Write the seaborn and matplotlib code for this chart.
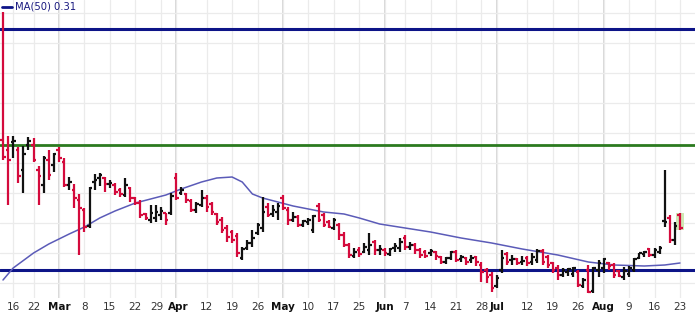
import numpy as np
import pandas as pd
import matplotlib
matplotlib.use("Agg")
import matplotlib.pyplot as plt
import matplotlib.transforms as mtransforms
from matplotlib.patches import Rectangle
import seaborn as sns

# ---------------- data (prices in thousandths) ----------------
opens = [433, 423, 431, 423, 403, 428, 428, 403, 388, 413, 408, 423, 411, 388, 383, 373, 363, 347, 391, 395,
         395, 389, 388, 383, 378, 385, 375, 370, 359, 353, 355, 358, 360, 360, 395, 380, 379, 372, 363, 368,
         375, 369, 359, 353, 345, 341, 337, 315, 325, 330, 340, 345, 366, 359, 361, 375, 363, 353, 356, 348,
         351, 343, 367, 358, 351, 345, 348, 338, 328, 317, 323, 321, 323, 331, 323, 323, 319, 325, 325, 335,
         326, 328, 323, 321, 320, 321, 316, 311, 315, 321, 314, 315, 313, 316, 308, 303, 298, 287, 303, 319,
         313, 314, 311, 315, 311, 313, 322, 316, 310, 305, 298, 301, 299, 301, 287, 303, 282, 303, 305, 310,
         308, 302, 296, 299, 303, 315, 319, 324, 318, 321, 352, 355, 333, 358]
highs = [561, 437, 437, 426, 427, 436, 435, 407, 417, 423, 420, 426, 415, 396, 389, 379, 365, 386, 399, 400,
         396, 393, 390, 385, 395, 386, 376, 373, 360, 368, 368, 366, 360, 380, 400, 386, 380, 374, 371, 383,
         378, 371, 360, 356, 348, 343, 340, 326, 333, 343, 350, 376, 370, 368, 370, 378, 366, 361, 358, 353,
         355, 358, 370, 360, 353, 355, 350, 341, 330, 325, 326, 330, 340, 333, 328, 325, 325, 330, 335, 338,
         331, 330, 325, 323, 324, 322, 317, 316, 322, 323, 318, 316, 318, 317, 311, 305, 301, 298, 323, 321,
         318, 315, 317, 317, 320, 324, 324, 318, 311, 308, 305, 305, 306, 303, 295, 308, 306, 313, 315, 311,
         310, 303, 306, 307, 315, 320, 322, 325, 325, 327, 403, 358, 351, 360]
lows = [413, 368, 415, 390, 380, 423, 411, 368, 380, 393, 401, 411, 386, 383, 365, 318, 341, 345, 383, 387,
        381, 385, 378, 376, 376, 371, 368, 355, 353, 350, 351, 353, 348, 358, 373, 378, 370, 361, 360, 366,
        361, 358, 348, 340, 331, 330, 316, 313, 323, 326, 338, 341, 356, 356, 353, 363, 348, 351, 346, 346,
        348, 340, 351, 346, 345, 343, 333, 326, 315, 315, 316, 320, 318, 318, 318, 317, 317, 321, 321, 323,
        323, 319, 315, 315, 317, 313, 309, 309, 313, 311, 311, 308, 310, 307, 291, 290, 281, 285, 300, 308,
        308, 308, 308, 307, 308, 310, 308, 305, 300, 293, 296, 297, 296, 286, 285, 280, 280, 296, 300, 303,
        295, 296, 293, 296, 301, 314, 316, 316, 315, 319, 346, 330, 328, 343]
closes = [416, 413, 432, 397, 419, 432, 413, 397, 415, 398, 419, 415, 388, 391, 375, 365, 346, 385, 393, 398,
          389, 390, 381, 379, 388, 375, 370, 358, 355, 360, 361, 362, 353, 377, 375, 383, 373, 363, 369, 375,
          366, 361, 351, 343, 336, 333, 320, 324, 330, 335, 348, 361, 358, 363, 367, 365, 353, 356, 348, 352,
          353, 357, 353, 348, 346, 353, 338, 328, 318, 321, 319, 326, 328, 323, 324, 320, 324, 327, 331, 326,
          328, 323, 318, 317, 322, 317, 311, 315, 321, 313, 316, 311, 315, 311, 301, 296, 285, 295, 315, 311,
          314, 310, 312, 310, 316, 322, 311, 308, 303, 298, 303, 304, 305, 288, 293, 281, 305, 310, 314, 307,
          298, 297, 302, 305, 314, 320, 321, 318, 323, 325, 351, 333, 347, 345]

# MA(50) read at selected bars
ma_index = [0, 2, 6, 9, 13, 16, 19, 22, 26, 29, 32, 35, 39, 42, 45, 47, 49, 51, 57, 63, 67, 70, 74, 79, 84,
            90, 96, 102, 109, 115, 120, 126, 130, 133]
ma_values = [293, 305, 320, 329, 339, 346, 355, 362, 370, 374, 378, 384, 391, 395, 396, 391, 379, 375, 367,
             361, 359, 355, 349, 345, 341, 335, 330, 324, 318, 311, 308, 307, 308, 310]

# horizontal levels
level_top = 544
level_mid = 428
level_low = 303

tick_index = [2, 6, 11, 16, 21, 26, 31, 34, 40, 45, 50, 55, 60, 65, 70, 75, 79, 84, 89, 94, 97, 103, 108,
              113, 118, 123, 128, 133]
tick_labels = ["16", "22", "Mar", "8", "15", "22", "29", "Apr", "12", "19", "26", "May", "10", "17", "25",
               "Jun", "7", "14", "21", "28", "Jul", "12", "19", "26", "Aug", "9", "16", "23"]
months = {"Mar", "Apr", "May", "Jun", "Jul", "Aug"}

# ---------------- drawing ----------------
sns.set_theme(style="white")
plt.rcParams['font.family'] = ['DejaVu Sans']

o = np.array(opens) / 1000
h = np.array(highs) / 1000
l = np.array(lows) / 1000
c = np.array(closes) / 1000
n = len(c)
x = np.arange(n)
prev = np.r_[o[0], c[:-1]]
RED = "#d40a3c"
BLK = "#111111"
cols = [BLK if c[i] >= prev[i] else RED for i in range(n)]

NAVY = "#0d1488"
GREEN = "#2b7a1f"
MA_COL = "#5b5bb8"

fig = plt.figure(figsize=(6.95, 3.16), dpi=100)
ax = fig.add_axes([0, 18 / 316, 1, 298 / 316])
ax.set_facecolor("white")

yt = [0.29, 0.32, 0.35, 0.38, 0.41, 0.44, 0.47, 0.50, 0.53, 0.56]
ax.set_yticks(yt)
ax.set_xticks(tick_index)
ax.grid(True, color="#ebebeb", lw=0.9, zorder=0)
for ti, lab in zip(tick_index, tick_labels):
    if lab in months:
        ax.axvline(ti, color="#cdcdcd", lw=1.1, zorder=0.5)

# highlight of last bar
ax.add_patch(Rectangle((x[-1] - 0.7, l[-1]), 1.4, h[-1] - l[-1], facecolor="#cfe8b4",
                       edgecolor="none", zorder=1))

ax.axhline(level_top / 1000, color=NAVY, lw=2.2, zorder=2)
ax.axhline(level_mid / 1000, color=GREEN, lw=2.0, zorder=2)
ax.axhline(level_low / 1000, color=NAVY, lw=2.2, zorder=2)

ma_df = pd.DataFrame({"x": ma_index, "ma": np.array(ma_values) / 1000})
sns.lineplot(data=ma_df, x="x", y="ma", color=MA_COL, lw=1.1, ax=ax, zorder=3)

ax.vlines(x, l, h, colors=cols, lw=1.6, zorder=4)
ax.hlines(o, x - 0.5, x, colors=cols, lw=1.6, zorder=4)
ax.hlines(c, x, x + 0.5, colors=cols, lw=1.6, zorder=4)

ax.set_xlim(-0.59, 135.95)
ax.set_ylim(0.275, 0.573)
ax.set_xlabel("")
ax.set_ylabel("")
ax.set_xticklabels(tick_labels)
ax.tick_params(axis="x", length=0, pad=3, labelsize=7.5, labelcolor="#333333")
ax.tick_params(axis="y", length=0, labelleft=False)
for i, t in enumerate(ax.get_xticklabels()):
    if t.get_text() in months:
        t.set_fontweight("bold")
        t.set_color("#111111")
    # small nudge so the adjacent "29" and "Apr" labels do not collide
    if i == 6:
        t.set_transform(t.get_transform() + mtransforms.ScaledTranslation(-2.5 / 72, 0, fig.dpi_scale_trans))
    if i == 7:
        t.set_transform(t.get_transform() + mtransforms.ScaledTranslation(1.5 / 72, 0, fig.dpi_scale_trans))
for s in ax.spines.values():
    s.set_visible(False)

ax.plot([0.003, 0.017], [0.977, 0.977], transform=ax.transAxes, color=NAVY, lw=2, zorder=5)
ax.text(0.021, 0.977, "MA(50) 0.31", transform=ax.transAxes, va="center", ha="left",
        fontsize=7.2, color="#1a1a80", zorder=5)

fig.savefig("out.png", dpi=100)
